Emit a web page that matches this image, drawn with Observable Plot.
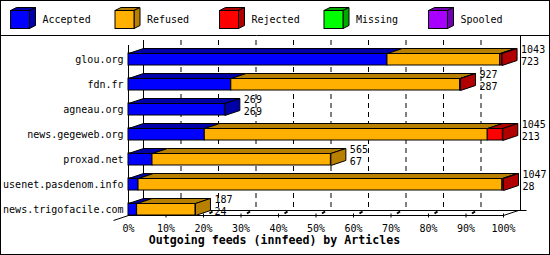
<!DOCTYPE html>
<html><head><meta charset="utf-8">
<script src="https://cdn.jsdelivr.net/npm/d3@7"></script>
<script src="https://cdn.jsdelivr.net/npm/@observablehq/plot@0.6"></script>
<style>body{margin:0;background:#fff} svg{display:block}</style>
</head><body><div id="chart"></div>
<script>
const hosts = ["glou.org","fdn.fr","agneau.org","news.gegeweb.org","proxad.net","usenet.pasdenom.info","news.trigofacile.com"];
const statuses = ["Accepted","Refused","Rejected","Missing","Spooled"];
const accepted = [723, 287, 269, 213, 67, 28, 24];
const refused  = [315, 639, 0, 790, 498, 1016, 163];
const rejected = [5, 1, 0, 42, 0, 3, 0];
const missing  = [0, 0, 0, 0, 0, 0, 0];
const spooled  = [0, 0, 0, 0, 0, 0, 0];
const totals   = [1043, 927, 269, 1045, 565, 1047, 187];
const xTicks = [0,10,20,30,40,50,60,70,80,90,100];
const frontColors = ["#0000ff","#ffb000","#ff0000","#00ff00","#a800ff"];
const sideColors  = ["#0000a8","#b88000","#b00000","#00a800","#7000b0"];
const title = "Outgoing feeds (innfeed) by Articles";

const series = [accepted, refused, rejected, missing, spooled];
const maxTotal = d3.max(totals);
const pct = v => v / maxTotal * 100;

const rows = [];
hosts.forEach((h, i) => statuses.forEach((s, k) => {
  if (series[k][i] > 0) rows.push({host: h, status: s, pct: pct(series[k][i])});
}));
const labels = hosts.map((h, i) => ({host: h, total: totals[i], acc: accepted[i]}));

const DX = 15, DY = -5;

const plot = Plot.plot({
  width: 550, height: 255,
  marginLeft: 128, marginRight: 47, marginTop: 47, marginBottom: 33,
  style: {background: "white", fontFamily: "DejaVu Sans Mono", fontSize: "10px", color: "black"},
  x: {domain: [0, 100], ticks: xTicks, tickFormat: d => d + "%", tickSize: 0, tickPadding: 2, label: null},
  y: {domain: hosts, padding: 0, tickSize: 0, tickPadding: 5, label: null},
  color: {domain: statuses, range: frontColors},
  marks: [
    Plot.ruleX(xTicks.filter(t => t > 0 && t < 100), {x: d => d, dx: DX, insetTop: -7, insetBottom: 12, stroke: "black", strokeDasharray: "5,4"}),
    Plot.ruleX([0], {x: d => d, dx: DX, insetTop: -7, insetBottom: 12, stroke: "black"}),
    Plot.ruleX([100], {x: d => d, dx: DX + 2, insetTop: -12, insetBottom: 12, stroke: "black"}),
    Plot.ruleX([0], {x: d => d, insetTop: -2, insetBottom: 7, stroke: "black"}),
    Plot.barX(rows, {y: "host", x: "pct", fill: "status", stroke: "black", insetTop: 6, insetBottom: 7}),
    Plot.text(labels, {x: d => pct(d.total), y: "host", text: d => String(d.total), dx: DX + 4, dy: -10.5, textAnchor: "start", fill: "black"}),
    Plot.text(labels, {x: d => pct(d.total), y: "host", text: d => String(d.acc), dx: DX + 4, dy: 1.5, textAnchor: "start", fill: "black"}),
    Plot.text([title], {frameAnchor: "bottom", text: d => d, dy: 21.5, dx: -41.5, fontWeight: "bold", fontSize: 11.6, fill: "black"})
  ]
});

const X = plot.scale("x"), Y = plot.scale("y");
const xs = v => X.apply(v);
const bw = Y.bandwidth;
const svg = d3.select(plot);

// floor (behind bars)
const yFront = Y.apply(hosts[hosts.length - 1]) + bw - 7;
const floor = svg.insert("g", "g").attr("transform", "translate(0.5,0.5)").attr("stroke", "black").attr("fill", "none");
floor.append("path").attr("d",
  `M${xs(0) - DX},${yFront - DY}L${xs(0) + DX},${yFront + DY}` +
  `M${xs(0)},${yFront}L${xs(100)},${yFront}L${xs(100) + DX},${yFront + DY}` +
  `M${xs(0) + DX},${yFront + DY}L${xs(100) + DX + 8},${yFront + DY}`);
xTicks.forEach(t => {
  if (t > 0) floor.append("line").attr("x1", xs(t)).attr("x2", xs(t)).attr("y1", yFront - 2).attr("y2", yFront + 2);
  if (t > 0 && t < 100) floor.append("line").attr("x1", xs(t) + 6).attr("x2", xs(t) + 9)
    .attr("y1", yFront - 2).attr("y2", yFront - 4).attr("stroke-width", 2);
});

// 3D faces
const faces = svg.append("g").attr("transform", "translate(0.5,0.5)").attr("stroke", "black");
hosts.forEach((h, i) => {
  const yt = Y.apply(h) + 6, yb = Y.apply(h) + bw - 7;
  let cum = 0, last = 0;
  statuses.forEach((s, k) => {
    const v = series[k][i]; if (!v) return;
    const x0 = xs(pct(cum)), x1 = xs(pct(cum + v)); cum += v; last = k;
    faces.append("path").attr("fill", sideColors[k])
      .attr("d", `M${x0},${yt}L${x1},${yt}L${x1 + DX},${yt + DY}L${x0 + DX},${yt + DY}Z`);
  });
  const xe = xs(pct(cum));
  faces.append("path").attr("fill", sideColors[last])
    .attr("d", `M${xe},${yt}L${xe + DX},${yt + DY}L${xe + DX},${yb + DY}L${xe},${yb}Z`);
});

// legend
const leg = svg.append("g").attr("transform", "translate(0.5,0.5)");
statuses.forEach((s, k) => {
  const bx = 10 + k * 104.5, by = 10, w = 19, hh = 18, ldx = 6, ldy = -3;
  const g = leg.append("g").attr("stroke", "black");
  g.append("path").attr("fill", sideColors[k]).attr("d", `M${bx},${by}L${bx + ldx},${by + ldy}L${bx + w + ldx},${by + ldy}L${bx + w},${by}Z`);
  g.append("path").attr("fill", sideColors[k]).attr("d", `M${bx + w},${by}L${bx + w + ldx},${by + ldy}L${bx + w + ldx},${by + hh + ldy}L${bx + w},${by + hh}Z`);
  g.append("rect").attr("x", bx).attr("y", by).attr("width", w).attr("height", hh).attr("fill", frontColors[k]);
  leg.append("text").attr("x", bx + 32).attr("y", 19).attr("dy", "0.32em").attr("fill", "black")
    .attr("text-anchor", "start")
    .style("font-family", "DejaVu Sans Mono").style("font-size", "10px").text(s);
});

// frame and separator
svg.append("rect").attr("x", 0.5).attr("y", 0.5).attr("width", 549).attr("height", 254).attr("fill", "none").attr("stroke", "black");
svg.append("line").attr("x1", 0).attr("x2", 550).attr("y1", 35.5).attr("y2", 35.5).attr("stroke", "black");

document.getElementById("chart").appendChild(plot);
</script>
</body></html>
